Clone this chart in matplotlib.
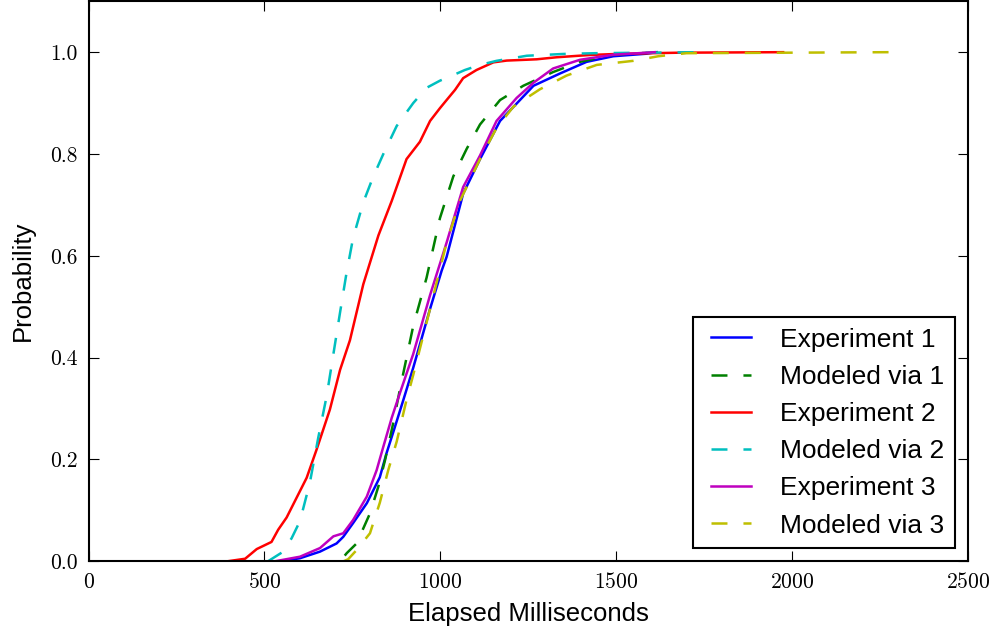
"""Response-time CDFs: three measured experiments against their modeled curves."""

import matplotlib
matplotlib.use("Agg")
import matplotlib.pyplot as plt
from matplotlib.ticker import FormatStrFormatter, MultipleLocator

# Experiment 1 (measured) and its model
EXP1_MS = [544, 601, 658, 705, 724, 752, 791, 828, 847, 871, 895, 923, 971,
           1004, 1018, 1065, 1113, 1170, 1217, 1265, 1340, 1416, 1492, 1587,
           1615]
EXP1_P = [0.0, 0.006, 0.019, 0.035, 0.048, 0.075, 0.114, 0.165, 0.212, 0.264,
          0.317, 0.380, 0.496, 0.571, 0.598, 0.722, 0.790, 0.865, 0.899, 0.934,
          0.958, 0.981, 0.992, 0.997, 1.0]
MOD1_MS = [645, 715, 734, 762, 800, 824, 843, 866, 885, 923, 961, 999, 1037,
           1075, 1113, 1170, 1236, 1321, 1397, 1492, 1560, 1650]
MOD1_P = [0.0, 0.0, 0.016, 0.035, 0.094, 0.147, 0.199, 0.271, 0.337, 0.462,
          0.557, 0.674, 0.756, 0.810, 0.858, 0.906, 0.934, 0.961, 0.981, 0.995,
          0.998, 1.0]

# Experiment 2 (measured) and its model
EXP2_MS = [395, 445, 478, 520, 539, 563, 620, 648, 686, 715, 743, 781, 824,
           862, 904, 942, 971, 999, 1018, 1042, 1065, 1103, 1151, 1189, 1274,
           1331, 1426, 1520, 1681, 1975]
EXP2_P = [0.0, 0.005, 0.024, 0.038, 0.062, 0.086, 0.164, 0.219, 0.298, 0.376,
          0.434, 0.544, 0.640, 0.708, 0.790, 0.824, 0.865, 0.890, 0.906, 0.926,
          0.949, 0.965, 0.980, 0.9835, 0.986, 0.990, 0.9945, 0.997, 0.999, 1.0]
MOD2_MS = [510, 549, 577, 601, 629, 653, 677, 696, 715, 733, 752, 781, 809,
           838, 876, 923, 961, 999, 1027, 1070, 1113, 1160, 1246, 1350, 1440,
           1740]
MOD2_P = [0.0, 0.017, 0.045, 0.079, 0.154, 0.243, 0.325, 0.407, 0.489, 0.565,
          0.635, 0.705, 0.755, 0.800, 0.855, 0.900, 0.930, 0.944, 0.952, 0.965,
          0.975, 0.983, 0.993, 0.9965, 0.998, 1.0]

# Experiment 3 (measured) and its model
EXP3_MS = [530, 601, 658, 696, 724, 752, 791, 819, 838, 862, 885, 923, 971,
           1018, 1065, 1113, 1160, 1217, 1265, 1321, 1397, 1492, 1610]
EXP3_P = [0.0, 0.009, 0.026, 0.049, 0.055, 0.081, 0.127, 0.179, 0.225, 0.282,
          0.330, 0.407, 0.523, 0.626, 0.735, 0.797, 0.865, 0.910, 0.940, 0.968,
          0.985, 0.995, 1.0]
MOD3_MS = [725, 738, 762, 800, 828, 852, 876, 904, 923, 971, 1018, 1056, 1113,
           1160, 1208, 1283, 1359, 1445, 1549, 1620, 1700, 2280]
MOD3_P = [0.0, 0.004, 0.022, 0.055, 0.115, 0.179, 0.235, 0.317, 0.366, 0.496,
          0.626, 0.708, 0.790, 0.851, 0.893, 0.927, 0.954, 0.975, 0.983, 0.992,
          0.998, 1.0]

LABELS = ["Experiment 1", "Modeled via 1", "Experiment 2", "Modeled via 2",
          "Experiment 3", "Modeled via 3"]

BLUE = (0.0, 0.0, 1.0)
GREEN = (0.0, 0.5, 0.0)
RED = (1.0, 0.0, 0.0)
CYAN = (0.0, 0.75, 0.75)
MAGENTA = (0.75, 0.0, 0.75)
OLIVE = (0.75, 0.75, 0.0)

SANS = "Liberation Sans"
SERIF = "cmr10"
DASH = (11.5, 11.5)
LW = 1.8


def main():
    plt.rcParams["lines.scale_dashes"] = False
    plt.rcParams["axes.formatter.use_mathtext"] = True

    fig = plt.figure(figsize=(9.95, 6.33), dpi=100)
    ax = fig.add_axes([0.0891, 0.1133, 0.8835, 0.8847])

    series = [
        (EXP1_MS, EXP1_P, BLUE, False),
        (MOD1_MS, MOD1_P, GREEN, True),
        (EXP2_MS, EXP2_P, RED, False),
        (MOD2_MS, MOD2_P, CYAN, True),
        (EXP3_MS, EXP3_P, MAGENTA, False),
        (MOD3_MS, MOD3_P, OLIVE, True),
    ]
    for (xs, ys, color, dashed), label in zip(series, LABELS):
        if dashed:
            ax.plot(xs, ys, color=color, lw=LW, linestyle="--",
                    dashes=DASH, label=label)
        else:
            ax.plot(xs, ys, color=color, lw=LW, label=label)

    ax.set_xlim(0, 2500)
    ax.set_ylim(0, 1.1)
    ax.xaxis.set_major_locator(MultipleLocator(500))
    ax.yaxis.set_major_formatter(FormatStrFormatter("%.1f"))
    ax.set_yticks([0.0, 0.2, 0.4, 0.6, 0.8, 1.0])

    ax.tick_params(which="major", direction="in", length=7, width=0.8,
                   top=True, right=True, pad=8, labelsize=15.5)
    for lbl in ax.get_xticklabels() + ax.get_yticklabels():
        lbl.set_fontfamily(SERIF)
    for spine in ax.spines.values():
        spine.set_linewidth(1.5)

    ax.set_xlabel("Elapsed Milliseconds", fontsize=18.5, family=SANS,
                  labelpad=7)
    ax.set_ylabel("Probability", fontsize=18.5, family=SANS, labelpad=11)

    # two-point handles leave a small inset at each end of the sample line
    leg = ax.legend(loc="lower right", prop={"family": SANS, "size": 19},
                    numpoints=2, fancybox=False, framealpha=1.0,
                    edgecolor="black", handlelength=2.1, handletextpad=0.8,
                    borderpad=0.4, labelspacing=0.5, borderaxespad=0.5)
    leg.get_frame().set_linewidth(1.5)

    fig.savefig("out.png", dpi=100)
    plt.close(fig)


if __name__ == "__main__":
    main()
